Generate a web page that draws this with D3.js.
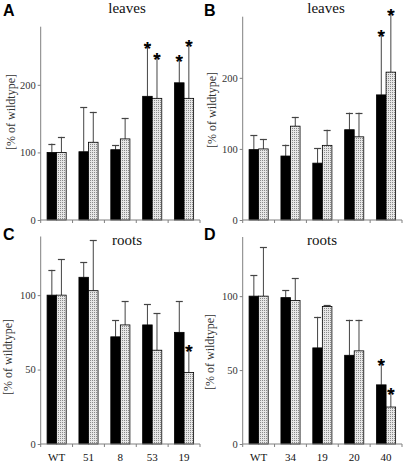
<!DOCTYPE html>
<html>
<head>
<meta charset="utf-8">
<script src="https://cdn.jsdelivr.net/npm/d3@7/dist/d3.min.js"></script>
<style>
  html, body { margin: 0; padding: 0; background: #fff; }
  svg { display: block; }
</style>
</head>
<body>
<svg id="chart" width="404" height="463"></svg>
<script>
// ---------- DATA ----------
const catsLeft  = ["WT", "51", "8", "53", "19"];
const catsRight = ["WT", "34", "19", "20", "40"];
const seriesNames = ["black", "dotted"];

// Panel A: leaves
const aBlack      = [100, 101, 104, 183, 203];
const aBlackErr   = [113, 167, 111, 259, 241];
const aDotted     = [100, 115, 120, 180, 180];
const aDottedErr  = [123, 160, 151, 243, 263];
const aBlackStar  = [0, 0, 0, 1, 1];
const aDottedStar = [0, 0, 0, 1, 1];

// Panel B: leaves
const bBlack      = [99, 90, 80, 127, 176];
const bBlackErr   = [119, 106, 101, 151, 264];
const bDotted     = [100, 132, 105, 117, 208];
const bDottedErr  = [114, 145, 127, 151, 294];
const bBlackStar  = [0, 0, 0, 0, 1];
const bDottedStar = [0, 0, 0, 0, 1];

// Panel C: roots
const cBlack      = [100, 112, 72, 80, 75];
const cBlackErr   = [117, 122, 83, 94, 96];
const cDotted     = [100, 103, 80, 63, 48];
const cDottedErr  = [124, 137, 96, 88, 65];
const cBlackStar  = [0, 0, 0, 0, 0];
const cDottedStar = [0, 0, 0, 0, 1];

// Panel D: roots
const dBlack      = [100, 99, 65, 60, 40];
const dBlackErr   = [114, 104, 86, 84, 56];
const dDotted     = [100, 97, 93, 63, 25];
const dDottedErr  = [133, 112, 94, 84, 36];
const dBlackStar  = [0, 0, 0, 0, 1];
const dDottedStar = [0, 0, 0, 0, 1];

const leavesTicks = [0, 100, 200];
const rootsTicks  = [0, 50, 100];
const yLabel = "[% of wildtype]";

// ---------- LAYOUT ----------
const panels = [
  { letter: "A", title: "leaves", cats: catsLeft, showX: false,
    vals: [aBlack, aDotted], errs: [aBlackErr, aDottedErr], stars: [aBlackStar, aDottedStar],
    ymax: 286, ticks: leavesTicks,
    x0: 40.7, x1: 200, yZero: 220, yTop: 26.7, titleX: 127, titleY: 13, labelX: 11, labelY: 112,
    letterX: 3, letterY: 16 },
  { letter: "B", title: "leaves", cats: catsRight, showX: false,
    vals: [bBlack, bDotted], errs: [bBlackErr, bDottedErr], stars: [bBlackStar, bDottedStar],
    ymax: 286, ticks: leavesTicks,
    x0: 242.7, x1: 402, yZero: 220, yTop: 16.7, titleX: 326, titleY: 13, labelX: 212, labelY: 110,
    letterX: 204, letterY: 16 },
  { letter: "C", title: "roots", cats: catsLeft, showX: true,
    vals: [cBlack, cDotted], errs: [cBlackErr, cDottedErr], stars: [cBlackStar, cDottedStar],
    ymax: 139.4, ticks: rootsTicks,
    x0: 40.7, x1: 200, yZero: 444, yTop: 236.5, titleX: 127, titleY: 245, labelX: 8, labelY: 357,
    letterX: 3, letterY: 240 },
  { letter: "D", title: "roots", cats: catsRight, showX: true,
    vals: [dBlack, dDotted], errs: [dBlackErr, dDottedErr], stars: [dBlackStar, dDottedStar],
    ymax: 140, ticks: rootsTicks,
    x0: 242.7, x1: 402, yZero: 444, yTop: 237, titleX: 322, titleY: 245, labelX: 210, labelY: 352,
    letterX: 204, letterY: 240 }
];

const svg = d3.select("#chart");
const defs = svg.append("defs");
const pat = defs.append("pattern")
  .attr("id", "dots").attr("patternUnits", "userSpaceOnUse")
  .attr("width", 2).attr("height", 2);
pat.append("rect").attr("width", 2).attr("height", 2).attr("fill", "#e6e6e6");
pat.append("rect").attr("width", 1).attr("height", 1).attr("fill", "#8a8a8a");

const serif = "'Liberation Serif', 'Times New Roman', serif";
const sans = "'Liberation Sans', Arial, sans-serif";
const axisColor = "#808080";
const errColor = "#444";

panels.forEach(p => {
  const g = svg.append("g");
  const x = d3.scaleBand().domain(p.cats).range([p.x0, p.x1]).padding(0);
  const xs = d3.scaleBand().domain(seriesNames)
    .range([x.bandwidth() * 0.2, x.bandwidth() * 0.8]).padding(0);
  const y = d3.scaleLinear().domain([0, p.ymax]).range([p.yZero, p.yTop]);

  seriesNames.forEach((s, si) => {
    const data = p.cats.map((c, i) => ({ c, v: p.vals[si][i], e: p.errs[si][i], st: p.stars[si][i] }));
    const cx = d => x(d.c) + xs(s) + xs.bandwidth() / 2;
    g.selectAll(null).data(data).enter().append("line")
      .attr("x1", cx).attr("x2", cx)
      .attr("y1", d => y(d.v)).attr("y2", d => y(d.e))
      .attr("stroke", errColor).attr("stroke-width", 1);
    g.selectAll(null).data(data).enter().append("line")
      .attr("x1", d => cx(d) - 3.5).attr("x2", d => cx(d) + 3.5)
      .attr("y1", d => Math.round(y(d.e)) + 0.5).attr("y2", d => Math.round(y(d.e)) + 0.5)
      .attr("stroke", errColor).attr("stroke-width", 1.2);
    g.selectAll(null).data(data).enter().append("rect")
      .attr("x", d => x(d.c) + xs(s))
      .attr("y", d => y(d.v))
      .attr("width", xs.bandwidth())
      .attr("height", d => y(0) - y(d.v))
      .attr("fill", si === 0 ? "#000" : "url(#dots)")
      .attr("stroke", "#000").attr("stroke-width", 0.8);
    g.selectAll(null).data(data.filter(d => d.st)).enter().append("text")
      .attr("x", cx).attr("y", d => y(d.e) + 10.5)
      .attr("text-anchor", "middle")
      .attr("font-family", sans).attr("font-weight", "bold").attr("font-size", 19)
      .attr("fill", "#000").text("*");
  });

  const yAxis = d3.axisLeft(y).tickValues(p.ticks).tickSize(3).tickPadding(2).tickFormat(d3.format("d"));
  const ya = g.append("g").attr("transform", `translate(${p.x0},0)`).call(yAxis);
  ya.select(".domain").attr("stroke", axisColor).attr("d", `M0,${p.yZero}V${p.yTop}`);
  ya.selectAll(".tick line").attr("stroke", axisColor);
  ya.selectAll(".tick text").attr("font-family", serif).attr("font-size", 10.5).attr("fill", "#333");

  const xa = g.append("g").attr("transform", `translate(0,${p.yZero})`);
  xa.append("line").attr("x1", p.x0).attr("x2", p.x1).attr("y1", 0).attr("y2", 0).attr("stroke", axisColor);
  const bounds = p.cats.map(c => x(c)).concat([p.x1]);
  xa.selectAll(null).data(bounds).enter().append("line")
    .attr("x1", d => d).attr("x2", d => d).attr("y1", 0).attr("y2", 3).attr("stroke", axisColor);
  if (p.showX) {
    xa.selectAll(null).data(p.cats).enter().append("text")
      .attr("x", d => x(d) + x.bandwidth() / 2).attr("y", 17)
      .attr("text-anchor", "middle")
      .attr("font-family", serif).attr("font-size", 11).attr("fill", "#111").text(d => d);
  }

  g.append("text").attr("x", p.titleX).attr("y", p.titleY).attr("text-anchor", "middle")
    .attr("font-family", serif).attr("font-size", 15).attr("fill", "#111").text(p.title);
  g.append("text").attr("x", p.letterX).attr("y", p.letterY)
    .attr("font-family", sans).attr("font-weight", "bold").attr("font-size", 16).attr("fill", "#000").text(p.letter);
  g.append("text").attr("transform", `translate(${p.labelX},${p.labelY}) rotate(-90)`)
    .attr("text-anchor", "middle").attr("dy", "0.35em")
    .attr("font-family", serif).attr("font-size", 12).attr("fill", "#333").text(yLabel);
});
</script>
</body>
</html>
